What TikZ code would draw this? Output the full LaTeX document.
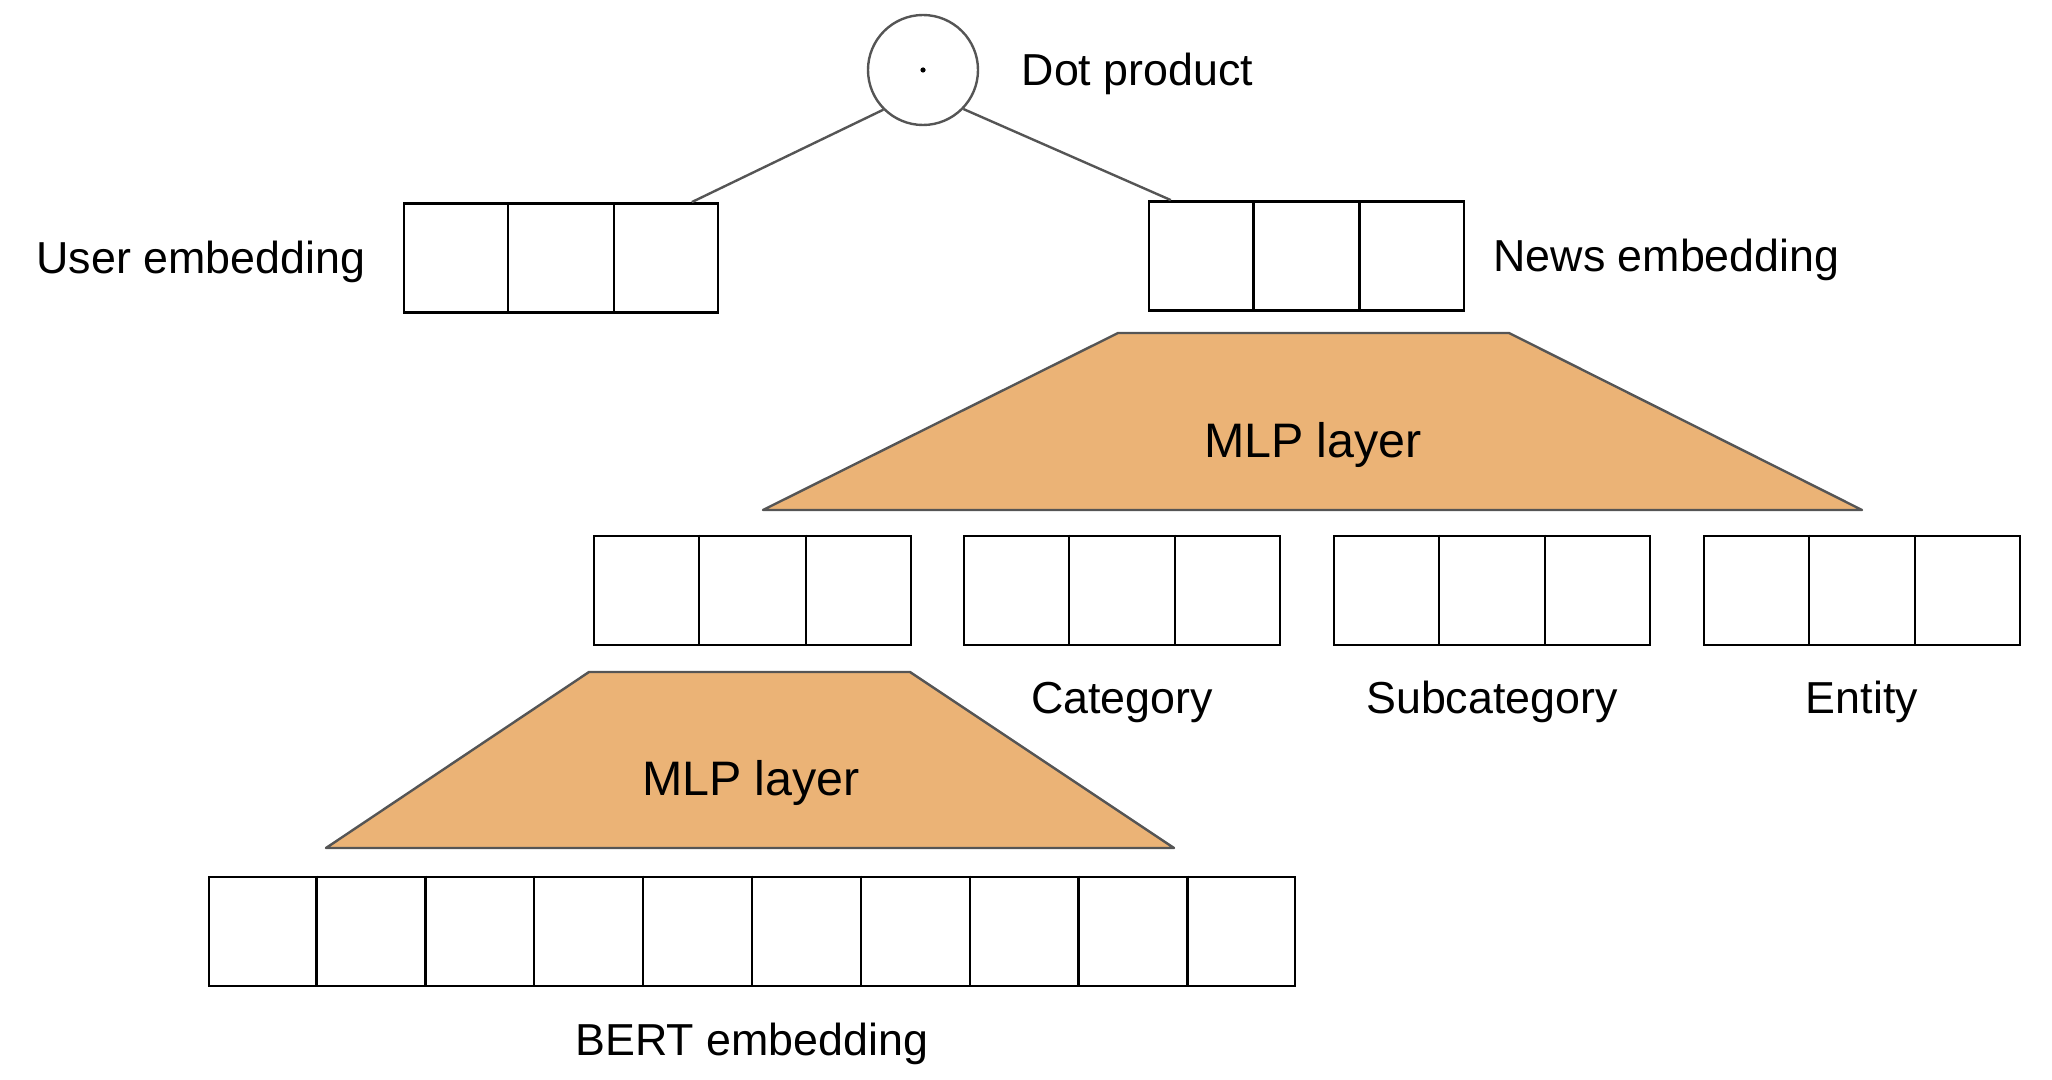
\documentclass[tikz,border=0pt]{standalone}
\usepackage{fontspec}
\setmainfont{Liberation Sans}
\usetikzlibrary{calc}
\definecolor{mlpfill}{HTML}{EBB376}
\definecolor{edgegray}{HTML}{555555}
\tikzset{
  vecbox/.style={draw=black, line width=1.4pt, fill=white, rectangle, inner sep=0pt, minimum height=54.5pt},
  divider/.style={draw=black, line width=1.15pt},
  mlp/.style={fill=mlpfill, draw=edgegray, line width=1.2pt, line join=round},
  lbl/.style={font=\fontsize{22.4}{26}\selectfont, inner sep=0pt, anchor=base},
  mlplbl/.style={font=\fontsize{24.2}{28}\selectfont, inner sep=0pt, anchor=base},
  link/.style={draw=edgegray, line width=1.2pt},
  dotcircle/.style={circle, draw=edgegray, line width=1.2pt, minimum size=55pt, inner sep=0pt}
}
\begin{document}
\begin{tikzpicture}[x=0.5pt,y=-0.5pt]
\useasboundingbox (0,0) rectangle (2052,1080);

% MLP layers
\draw[mlp] (1118,333) -- (1509,333) -- (1862,510) -- (763,510) -- cycle;
\draw[mlp] (589,672) -- (910,672) -- (1174,848) -- (326,848) -- cycle;

% dot product
\node[dotcircle] (dot) at (923,70) {};
\fill (dot.center) circle (1.3pt);

% vectors
\node[vecbox, minimum width=157pt] (user) at (561,258) {};
\node[vecbox, minimum width=157.5pt] (news) at (1306.5,256) {};
\node[vecbox, minimum width=158.5pt] (text) at (752.5,590.5) {};
\node[vecbox, minimum width=158pt] (cat) at (1122,590.5) {};
\node[vecbox, minimum width=158pt] (subcat) at (1492,590.5) {};
\node[vecbox, minimum width=158pt] (ent) at (1862,590.5) {};
\node[vecbox, minimum width=543pt] (bert) at (752,931.5) {};

\foreach \n/\k in {user/3, news/3, text/3, cat/3, subcat/3, ent/3, bert/10}{
  \pgfmathtruncatemacro\km{\k-1}
  \foreach \i in {1,...,\km}{
    \draw[divider] ($(\n.north west)!\i/\k!(\n.north east)$) -- ($(\n.south west)!\i/\k!(\n.south east)$);
  }
}

% connectors
\coordinate (uend) at ($(user.north west)!0.913!(user.north east)$);
\coordinate (nend) at ($(news.north west)!0.073!(news.north east)$);
\draw[link] (dot.225) -- (uend);
\draw[link] (dot.-44) -- (nend);

% labels
\node[lbl] (dotlbl) at (1137.5,86) {Dot product};
\node[lbl] (userlbl) at (201,274) {User embedding};
\node[lbl] (newslbl) at (1666.5,271.7) {News embedding};
\node[mlplbl] (mlp1) at (1313,458) {MLP layer};
\node[mlplbl] (mlp2) at (751,795.7) {MLP layer};
\node[lbl] (catlbl) at (1122,713) {Category};
\node[lbl] (subcatlbl) at (1492,713) {Subcategory};
\node[lbl] (entlbl) at (1862,713) {Entity};
\node[lbl] (bertlbl) at (752,1055) {BERT embedding};
\end{tikzpicture}
\end{document}
